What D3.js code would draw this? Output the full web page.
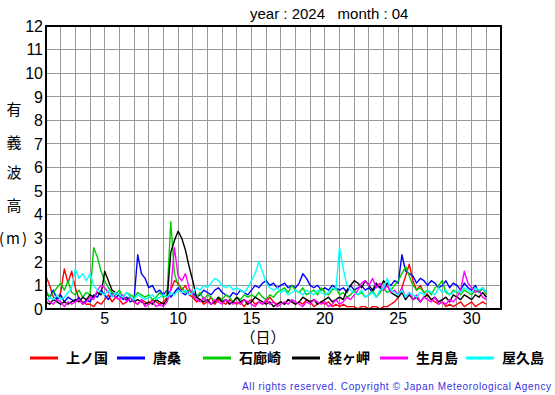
<!DOCTYPE html>
<head>
  <meta charset="utf-8">
  <script src="https://d3js.org/d3.v7.min.js"></script>
  <style>
  body { margin: 0; background: #fff; }
  #chart text { font-family: "Liberation Sans", Arial, sans-serif; fill: #000; }
  #chart .jp { font-family: "Noto Sans CJK JP", sans-serif; }
  </style>
</head>

<body>
  <svg id="chart"></svg>
  <script>

    // significant wave height (m), every 6 hours from Apr 1 00h
    var stations = ["上ノ国", "唐桑", "石廊崎", "経ヶ岬", "生月島", "屋久島"];
    var colors = ["#ff0000", "#0000ff", "#00cc00", "#000000", "#ff00ff", "#00ffff"];

    var kaminokuni = [1.4,1.0,0.5,0.4, 0.7,1.7,1.1,1.6, 0.9,0.4,0.3,0.2, 0.2,0.1,0.3,0.2, 0.4,0.6,0.3,0.5,
      0.4,0.2,0.3,0.5, 0.3,0.2,0.4,0.3, 0.2,0.4,0.3,0.2, 0.3,0.5,0.8,1.2, 1.1,0.8,1.0,0.6,
      0.5,0.3,0.4,0.2, 0.3,0.5,0.2,0.4, 0.3,0.2,0.4,0.3, 0.2,0.3,0.1,0.3, 0.4,0.2,0.3,0.2,
      0.3,0.5,0.3,0.2, 0.3,0.2,0.4,0.3, 0.2,0.3,0.2,0.4, 0.3,0.1,0.2,0.3, 0.2,0.3,0.1,0.2,
      0.1,0.2,0.1,0.1, 0.1,0.0,0.1,0.1, 0.0,0.1,0.1,0.0, 0.1,0.1,0.2,0.3, 0.5,0.9,1.4,1.9,
      1.2,0.8,1.0,0.7, 0.6,0.4,0.3,0.2, 0.3,0.1,0.2,0.1, 0.2,0.3,0.1,0.2, 0.3,0.1,0.2,0.3, 0.2];
    var karakuwa = [0.7,0.5,0.8,0.4, 0.6,0.3,0.5,0.4, 0.3,0.5,0.2,0.4, 0.3,0.6,0.5,0.8, 0.6,0.4,0.7,0.5,
      0.6,0.4,0.5,0.3, 0.4,2.3,1.5,1.3, 0.9,1.0,0.7,0.8, 0.6,0.8,0.5,0.7, 0.9,0.7,0.6,0.8,
      0.7,0.5,0.6,0.8, 0.7,0.6,0.8,0.9, 0.7,0.6,0.5,0.7, 0.6,0.8,0.7,0.6, 0.8,1.0,0.9,1.1,
      1.2,1.0,1.1,0.9, 1.0,1.1,0.9,1.0, 0.9,1.1,1.5,1.3, 1.0,0.9,1.0,0.8, 0.9,0.8,1.0,0.9,
      0.8,0.9,0.7,1.0, 0.8,0.9,1.0,0.8, 0.9,0.7,1.0,0.9, 0.8,1.1,1.0,1.2, 1.1,2.3,1.6,1.5,
      1.4,1.1,1.3,1.2, 1.0,1.2,1.1,0.9, 1.0,1.2,0.9,1.1, 1.0,0.8,1.1,0.9, 0.8,1.0,0.7,0.9, 0.7];
    var irouzaki = [0.8,0.5,0.7,0.9, 1.1,0.8,1.2,0.7, 0.6,0.8,0.5,0.7, 0.6,2.6,2.2,1.6, 1.2,0.9,0.7,0.6,
      0.8,0.5,0.7,0.6, 0.5,0.7,0.6,0.5, 0.6,0.4,0.5,0.7, 0.5,0.6,3.7,1.5, 1.0,0.9,0.7,0.8,
      0.6,0.5,0.7,0.4, 0.6,0.5,0.3,0.5, 0.4,0.6,0.5,0.3, 0.5,0.4,0.6,0.5, 0.6,0.5,0.7,0.5,
      0.4,0.6,0.5,0.7, 0.8,0.9,0.7,1.0, 0.8,0.7,0.9,0.6, 0.7,0.8,0.6,0.9, 0.7,0.6,0.8,0.9,
      0.6,0.7,0.5,0.6, 0.8,0.6,0.7,0.5, 0.6,0.8,0.5,0.7, 0.9,0.7,0.8,1.0, 1.2,1.5,1.8,1.4,
      1.0,0.8,0.9,0.7, 0.8,0.6,0.9,1.0, 1.2,0.7,0.6,0.8, 0.7,0.6,0.8,0.7, 0.6,0.8,0.7,0.9, 0.6];
    var kyougamisaki = [0.3,0.2,0.4,0.3, 0.2,0.3,0.2,0.3, 0.4,0.3,0.5,0.4, 0.6,0.5,0.7,0.6, 1.6,1.2,0.8,0.7,
      0.6,0.5,0.4,0.5, 0.3,0.4,0.3,0.2, 0.3,0.2,0.4,0.3, 0.2,0.4,2.4,2.9, 3.3,3.0,2.5,1.8,
      1.2,0.5,0.4,0.3, 0.4,0.2,0.3,0.5, 0.3,0.4,0.2,0.3, 0.5,0.3,0.4,0.2, 0.3,0.5,0.4,0.3,
      0.2,0.3,0.1,0.2, 0.3,0.2,0.4,0.3, 0.2,0.3,0.5,0.4, 0.3,0.4,0.2,0.3, 0.4,0.5,0.3,0.4,
      0.5,0.4,0.8,1.0, 1.2,1.1,0.9,1.2, 1.0,0.8,1.1,0.9, 1.2,1.0,0.7,0.6, 0.5,0.7,0.4,0.6,
      0.4,0.5,0.3,0.5, 0.6,0.4,0.5,0.3, 0.4,0.5,0.3,0.6, 0.5,0.4,0.6,0.5, 0.4,0.6,0.5,0.7, 0.5];
    var ikitsukishima = [0.5,0.3,0.2,0.4, 0.3,0.1,0.3,0.2, 0.3,0.4,0.2,0.3, 0.5,0.4,0.8,1.0, 0.9,0.7,0.6,0.5,
      0.4,0.6,0.3,0.5, 0.3,0.2,0.4,0.1, 0.2,0.3,0.1,0.2, 0.1,0.3,0.8,2.6, 1.4,1.2,1.5,0.9,
      0.6,0.4,0.3,0.5, 0.3,0.2,0.4,0.3, 0.2,0.4,0.3,0.2, 0.3,0.2,0.4,0.3, 0.2,0.1,0.3,0.2,
      0.4,0.2,0.3,0.1, 0.2,0.3,0.2,0.4, 0.3,0.2,0.1,0.3, 0.2,0.4,0.3,0.2, 0.3,0.1,0.2,0.4,
      0.2,0.3,0.5,0.4, 0.6,0.8,1.1,1.2, 1.0,1.3,0.9,1.1, 0.8,1.0,0.7,0.8, 0.6,0.9,0.5,0.7,
      0.4,0.6,0.3,0.5, 0.4,0.3,0.5,0.2, 0.3,0.2,0.4,0.3, 0.5,0.8,1.6,1.1, 0.9,0.7,0.8,0.5, 0.4];
    var yakushima = [0.3,0.5,0.4,0.6, 0.4,0.5,0.7,0.9, 1.7,1.3,1.5,1.2, 1.5,1.0,0.8,0.7, 0.6,0.8,0.5,0.7,
      0.6,0.5,0.7,0.5, 0.4,0.6,0.5,0.4, 0.5,0.6,0.4,0.5, 0.6,0.5,0.7,0.6, 0.8,0.7,0.8,0.6,
      0.7,0.9,0.8,1.0, 0.9,1.1,1.3,1.2, 1.0,0.9,1.0,0.8, 0.9,0.8,0.7,0.9, 1.2,1.5,2.0,1.6,
      1.1,0.9,0.8,0.9, 0.7,0.8,0.6,0.7, 0.8,0.7,0.6,0.8, 0.7,0.6,0.8,0.7, 0.6,0.7,0.9,0.8,
      2.6,1.7,1.0,0.8, 0.7,0.6,0.8,0.5, 0.6,0.7,0.5,0.8, 0.9,1.3,0.8,0.7, 0.6,0.8,0.5,0.7,
      0.6,0.5,0.7,0.6, 0.8,0.7,0.6,0.9, 0.7,0.8,0.6,0.7, 0.8,0.7,0.9,0.8, 0.7,0.9,0.8,0.9, 0.7];

    var series = [kaminokuni, karakuwa, irouzaki, kyougamisaki, ikitsukishima, yakushima];
    var dayTicks = [5, 10, 15, 20, 25, 30];
    var heightTicks = d3.range(0, 13);

    var W = 555, H = 395;
    var plotL = 46, plotR = 501, plotT = 26, plotB = 309;

    var x = d3.scaleLinear().domain([1, 32]).range([plotL, plotR]);
    var y = d3.scaleLinear().domain([0, 12]).range([plotB, plotT]);

    var svg = d3.select('#chart').attr('width', W).attr('height', H);

    // grid
    svg.append('g').selectAll('line').data(d3.range(2, 32)).enter().append('line')
      .attr('x1', d => x(d)).attr('x2', d => x(d)).attr('y1', plotT).attr('y2', plotB)
      .attr('stroke', '#999').attr('stroke-width', 1).attr('shape-rendering', 'crispEdges');
    svg.append('g').selectAll('line').data(d3.range(1, 12)).enter().append('line')
      .attr('x1', plotL).attr('x2', plotR).attr('y1', d => y(d)).attr('y2', d => y(d))
      .attr('stroke', '#999').attr('stroke-width', 1).attr('shape-rendering', 'crispEdges');

    // series lines
    var line = d3.line()
      .x((d, i) => x(1 + i / 4))
      .y(d => y(d));

    svg.append('g').selectAll('path').data(series).enter().append('path')
      .attr('d', line)
      .attr('fill', 'none')
      .attr('stroke', (d, i) => colors[i])
      .attr('stroke-width', 1.4)
      .attr('stroke-linejoin', 'round');

    // frame
    svg.append('rect')
      .attr('x', plotL).attr('y', plotT).attr('width', plotR - plotL).attr('height', plotB - plotT)
      .attr('fill', 'none').attr('stroke', '#000').attr('stroke-width', 2);

    // y tick labels
    svg.append('g').selectAll('text').data(heightTicks).enter().append('text')
      .attr('x', plotL - 3).attr('y', d => y(d)).attr('dy', '0.36em')
      .attr('text-anchor', 'end').style('font-size', '16px')
      .text(d => d);

    // x tick labels
    svg.append('g').selectAll('text').data(dayTicks).enter().append('text')
      .attr('x', d => x(d)).attr('y', 324).attr('text-anchor', 'middle')
      .style('font-size', '16px')
      .text(d => d);

    // title
    svg.append('text').attr('x', 250).attr('y', 19).style('font-size', '15px')
      .attr('xml:space', 'preserve').text('year : 2024   month : 04');

    // axis titles
    var yTitle = ['有', '義', '波', '高', '(m)'];
    var yTitleY = [110, 143, 173, 206, 239];
    svg.append('g').selectAll('text').data(yTitle).enter().append('text')
      .attr('class', 'jp').attr('x', 14).attr('y', (d, i) => yTitleY[i]).attr('dy', '0.35em')
      .attr('text-anchor', 'middle').style('font-size', '15px')
      .style('letter-spacing', (d, i) => i === 4 ? '2px' : null)
      .text(d => d);
    svg.append('text').attr('class', 'jp').attr('x', 263).attr('y', 338).attr('dy', '0.35em')
      .attr('text-anchor', 'middle').style('font-size', '15px').text('（日）');

    // legend
    var legX = [30, 117, 203, 292, 380, 466];
    var leg = svg.append('g').selectAll('g').data(stations).enter().append('g')
      .attr('transform', (d, i) => 'translate(' + legX[i] + ',358)');
    leg.append('line').attr('x1', 0).attr('x2', 28).attr('y1', 0).attr('y2', 0)
      .attr('stroke', (d, i) => colors[i]).attr('stroke-width', 3);
    leg.append('text').attr('class', 'jp').attr('x', 36).attr('dy', '0.35em')
      .style('font-size', '14px').style('font-weight', 'bold')
      .text(d => d);

    // copyright
    svg.append('text').attr('x', 242).attr('y', 390)
      .attr('textLength', 309).attr('lengthAdjust', 'spacing')
      .style('font-size', '10px').style('fill', '#3333dd')
      .text('All rights reserved. Copyright © Japan Meteorological Agency');

  </script>
</body>
